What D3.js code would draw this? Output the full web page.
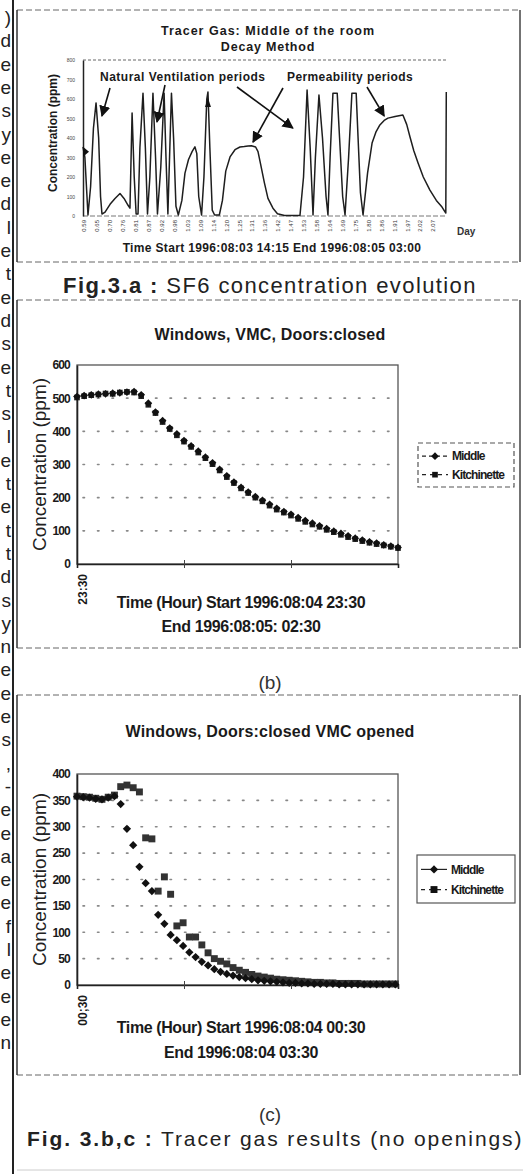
<!DOCTYPE html>
<html>
<head>
<meta charset="utf-8">
<script src="https://cdn.jsdelivr.net/npm/d3@7"></script>
<style>
body { margin: 0; background: #fff; }
svg { display: block; font-family: "Liberation Sans", Arial, sans-serif; }
</style>
</head>
<body>
<div id="page"></div>
<script>
// ---- Fig 3.a : SF6 concentration, day fraction vs ppm
var sf6Days = [0.590, 0.598, 0.611, 0.622, 0.634, 0.645, 0.656, 0.664, 0.670, 0.683, 0.704, 0.725, 0.746, 0.763, 0.780, 0.788,
  0.797, 0.806, 0.814, 0.822, 0.830, 0.843, 0.853, 0.862, 0.872, 0.885, 0.896, 0.904, 0.918, 0.932, 0.940, 0.948,
  0.955, 0.963, 0.972, 0.982, 0.992, 1.007, 1.020, 1.035, 1.050, 1.062, 1.070, 1.078, 1.090, 1.100, 1.112, 1.117,
  1.125, 1.135, 1.145, 1.165, 1.178, 1.192, 1.210, 1.231, 1.252, 1.270, 1.286, 1.300, 1.318, 1.328, 1.340, 1.355,
  1.370, 1.391, 1.410, 1.440, 1.505, 1.520, 1.535, 1.548, 1.560, 1.570, 1.585, 1.600, 1.615, 1.623, 1.632, 1.644,
  1.662, 1.672, 1.685, 1.695, 1.710, 1.724, 1.742, 1.750, 1.760, 1.771, 1.790, 1.809, 1.825, 1.842, 1.860, 1.876,
  1.906, 1.939, 1.955, 1.969, 1.985, 2.003, 2.025, 2.053, 2.080, 2.104, 2.120, 2.122];
var sf6Ppm = [355, 300, 5, 150, 450, 580, 400, 100, 10, 20, 60, 90, 115, 90, 55, 40,
  528, 200, 10, 10, 350, 630, 350, 10, 200, 630, 300, 10, 250, 630, 300, 10,
  300, 630, 400, 50, 5, 80, 220, 290, 330, 355, 320, 100, 5, 200, 600, 636,
  350, 30, 5, 5, 80, 230, 303, 340, 354, 356, 359, 360, 354, 330, 260, 170,
  90, 40, 12, 3, 3, 200, 646, 350, 5, 300, 620, 400, 100, 5, 300, 630,
  630, 400, 100, 5, 300, 630, 630, 400, 120, 5, 220, 374, 430, 467, 490, 502,
  510, 518, 470, 405, 335, 272, 200, 133, 80, 46, 15, 636];
var sf6YTicks = [0, 100, 200, 300, 400, 500, 600, 700, 800];
var sf6DayLabels = ["0.59", "0.65", "0.70", "0.76", "0.81", "0.87", "0.92", "0.98", "1.03", "1.09", "1.14", "1.20", "1.25", "1.31",
  "1.36", "1.42", "1.47", "1.53", "1.58", "1.64", "1.69", "1.75", "1.80", "1.86", "1.91", "1.97", "2.02", "2.07"];

// ---- Fig 3.b : minutes after 23:30
var bMinutes = [0, 4, 8, 12, 16, 20, 24, 28, 32, 36, 40, 44, 48, 52, 56, 60, 64, 68, 72, 76, 80, 84, 88,
  92, 96, 100, 104, 108, 112, 116, 120, 124, 128, 132, 136, 140, 144, 148, 152, 156, 160, 164, 168, 172, 176, 180];
var bMiddle = [505, 508, 510, 512, 513, 515, 516, 518, 520, 510, 485, 458, 432, 410, 392, 372, 356, 340, 322, 305, 285, 266, 247,
  231, 217, 203, 192, 180, 168, 158, 150, 140, 131, 123, 115, 107, 99, 92, 85, 78, 72, 67, 63, 58, 54, 50];
var bKitch = [502, 506, 509, 511, 514, 513, 517, 519, 517, 506, 480, 455, 428, 407, 388, 369, 353, 336, 319, 301, 282, 262, 244,
  228, 214, 200, 189, 176, 164, 155, 146, 136, 127, 119, 112, 103, 96, 88, 81, 75, 69, 64, 60, 56, 52, 48];
var bYTicks = [0, 100, 200, 300, 400, 500, 600];

// ---- Fig 3.c : minutes after 00:30
var cMinutes = [0, 3.5, 7, 10.5, 14, 17.5, 21, 24.5, 28, 31.5, 35, 38.5, 42, 45.5, 49, 52.5, 56, 59.5, 63, 66.5, 70, 73.5, 77,
  80.5, 84, 87.5, 91, 94.5, 98, 101.5, 105, 108.5, 112, 115.5, 119, 122.5, 126, 129.5, 133, 136.5, 140, 143.5, 147, 150.5,
  154, 157.5, 161, 164.5, 168, 171.5, 175, 178.5];
var cMiddle = [357, 356, 355, 353, 352, 355, 358, 343, 296, 265, 224, 193, 178, 133, 116, 95, 85, 74, 62, 53, 44, 37, 30,
  25, 21, 18, 15, 13, 11, 9, 8, 7, 6, 5, 4, 4, 3, 3, 2, 2, 2, 2, 1, 1, 1, 1, 1, 1, 1, 1, 1, 1];
var cKitch = [358, 357, 356, 354, 352, 356, 360, 376, 379, 374, 366, 279, 277, 178, 205, 172, 112, 118, 91, 91, 76, 61, 50,
  45, 40, 33, 28, 24, 20, 17, 15, 13, 11, 10, 9, 8, 7, 6, 5, 5, 4, 4, 3, 3, 3, 3, 2, 2, 2, 2, 2, 2];
var cYTicks = [0, 50, 100, 150, 200, 250, 300, 350, 400];

var seriesNames = ["Middle", "Kitchinette"];

// cut-off letters of the neighbouring text column
var sideChars = [")", "d", "e", "e", "s", "y", "e", "e", "d", "l", "e", "t", "e", "d", "s", "e", "t", "s", "l", "e", "t",
  "e", "t", "t", "d", "s", "y", "n", "e", "e", "e", "s", ",", "-", "e", "e", "a", "e", "e", "f", "l", "e", "e", "e", "n", "", ""];

var W = 523, H = 1174;
var ink = "#1a1a1a";

var svg = d3.select("#page").append("svg")
  .attr("width", W)
  .attr("height", H);

svg.append("rect").attr("width", W).attr("height", H).attr("fill", "#fff");

// page column rule + leftover letters
svg.append("line").attr("x1", 13).attr("x2", 13).attr("y1", 0).attr("y2", H)
  .attr("stroke", "#222").attr("stroke-width", 2);
svg.selectAll(".side").data(sideChars).enter().append("text")
  .attr("class", "side")
  .attr("x", 11)
  .attr("y", function(d, i) { return 24 + i * 23.3; })
  .attr("text-anchor", "end")
  .attr("font-size", 19)
  .attr("fill", "#222")
  .text(function(d) { return d; });

// figure boxes (dashed top/bottom, solid sides as in the scan)
function box(y0, y1) {
  svg.append("line").attr("x1", 17).attr("x2", 520).attr("y1", y0).attr("y2", y0)
    .attr("stroke", "#666").attr("stroke-dasharray", "6,3");
  svg.append("line").attr("x1", 17).attr("x2", 520).attr("y1", y1).attr("y2", y1)
    .attr("stroke", "#666").attr("stroke-dasharray", "6,3");
  svg.append("line").attr("x1", 17).attr("x2", 17).attr("y1", y0).attr("y2", y1)
    .attr("stroke", "#333").attr("stroke-width", 1.5);
  svg.append("line").attr("x1", 520).attr("x2", 520).attr("y1", y0).attr("y2", y1)
    .attr("stroke", "#444").attr("stroke-width", 1.5);
}
box(10, 262);
box(300, 648);
box(695, 1075);

// ================= Fig 3.a =================
var ax = d3.scaleLinear().domain([0.59, 2.125]).range([83, 447]);
var ay = d3.scaleLinear().domain([0, 800]).range([216, 60]);
var ga = svg.append("g");

ga.append("text").attr("x", 268).attr("y", 35).attr("text-anchor", "middle")
  .attr("font-size", 12.5).attr("letter-spacing", 1).attr("font-weight", "bold").attr("fill", ink)
  .text("Tracer Gas: Middle of the room");
ga.append("text").attr("x", 268).attr("y", 51).attr("text-anchor", "middle")
  .attr("font-size", 12.5).attr("letter-spacing", 0.8).attr("font-weight", "bold").attr("fill", ink)
  .text("Decay Method");

// frame
ga.append("line").attr("x1", ax.range()[0]).attr("x2", ax.range()[1]).attr("y1", ay(800)).attr("y2", ay(800))
  .attr("stroke", "#666").attr("stroke-dasharray", "3,2");
ga.append("line").attr("x1", ax.range()[0]).attr("x2", ax.range()[1]).attr("y1", ay(0)).attr("y2", ay(0))
  .attr("stroke", "#777").attr("stroke-dasharray", "5,2");

var aYAxis = ga.append("g")
  .attr("transform", "translate(" + ax.range()[0] + ",0)")
  .call(d3.axisLeft(ay).tickValues(sf6YTicks).tickSize(0).tickPadding(8));
aYAxis.select(".domain").attr("stroke", "#222").attr("stroke-width", 1.5);
aYAxis.selectAll("text").attr("font-size", 5).attr("fill", "#444").attr("font-family", "Liberation Sans");

ga.append("text")
  .attr("transform", "translate(57,133) rotate(-90)")
  .attr("text-anchor", "middle")
  .attr("font-size", 12).attr("font-weight", "bold").attr("fill", ink)
  .text("Concentration (ppm)");

// day labels (category axis)
var aLab = d3.scalePoint().domain(sf6DayLabels).range([84, 433]);
var aXAxis = ga.append("g")
  .attr("transform", "translate(0," + ay(0) + ")")
  .call(d3.axisBottom(aLab).tickSize(0).tickPadding(3));
aXAxis.select(".domain").remove();
aXAxis.selectAll("text")
  .attr("font-size", 6).attr("fill", "#333").attr("font-family", "Liberation Sans")
  .attr("text-anchor", "end")
  .attr("transform", "rotate(-90)")
  .attr("x", -4).attr("y", 0).attr("dy", "0.32em");

ga.append("text").attr("x", 457).attr("y", 235)
  .attr("font-size", 10).attr("font-weight", "bold").attr("fill", "#333").text("Day");
ga.append("text").attr("x", 272).attr("y", 252).attr("text-anchor", "middle")
  .attr("font-size", 12).attr("letter-spacing", 0.35).attr("font-weight", "bold").attr("fill", ink)
  .text("Time  Start 1996:08:03 14:15 End 1996:08:05 03:00");

var line = d3.line()
  .x(function(d) { return ax(d[0]); })
  .y(function(d) { return ay(d[1]); });
ga.append("path")
  .datum(d3.zip(sf6Days, sf6Ppm))
  .attr("d", line)
  .attr("fill", "none")
  .attr("stroke", "#1e1e1e")
  .attr("stroke-width", 1.5)
  .attr("stroke-linejoin", "round");

// annotations
ga.append("text").attr("x", 100).attr("y", 81)
  .attr("font-size", 12).attr("letter-spacing", 0.5).attr("font-weight", "bold").attr("fill", ink)
  .text("Natural Ventilation periods");
ga.append("text").attr("x", 287).attr("y", 81)
  .attr("font-size", 12).attr("letter-spacing", 0.4).attr("font-weight", "bold").attr("fill", ink)
  .text("Permeability periods");

var defs = svg.append("defs");
defs.append("marker").attr("id", "ah")
  .attr("viewBox", "0 0 10 10").attr("refX", 9).attr("refY", 5)
  .attr("markerWidth", 7).attr("markerHeight", 7).attr("orient", "auto")
  .append("path").attr("d", "M0,0L10,5L0,10Z").attr("fill", "#111");

var arrows = [
  [110, 88, 0.670, 513],
  [165, 85, 0.902, 482],
  [237, 87, 1.475, 451],
  [283, 88, 1.307, 379],
  [367, 87, 1.860, 513]
];
ga.selectAll(".arr").data(arrows).enter().append("line")
  .attr("class", "arr")
  .attr("x1", function(d) { return d[0]; })
  .attr("y1", function(d) { return d[1]; })
  .attr("x2", function(d) { return ax(d[2]); })
  .attr("y2", function(d) { return ay(d[3]); })
  .attr("stroke", "#111").attr("stroke-width", 1.6)
  .attr("marker-end", "url(#ah)");

// small arrow tips printed on the curve
ga.append("path").attr("d", "M" + ax(0.59) + "," + (ay(330) - 5) + "l6,5l-6,5z").attr("fill", "#111");
ga.append("path").attr("d", "M" + (ax(1.117) - 3) + "," + (ay(590) + 6) + "l3,-9l3,9z").attr("fill", "#111");

svg.append("text").attr("x", 270).attr("y", 293).attr("text-anchor", "middle")
  .attr("font-size", 22).attr("letter-spacing", 1.4).attr("fill", "#222")
  .call(function(t) {
    t.append("tspan").attr("font-weight", "bold").text("Fig.3.a :");
    t.append("tspan").text(" SF6 concentration evolution");
  });

// ================= Fig 3.b / 3.c scatter panels =================
function panel(opt) {
  var x = d3.scaleLinear().domain([0, 180]).range([77, 398]);
  var y = d3.scaleLinear().domain([0, opt.yMax]).range([opt.bottom, opt.top]);
  var g = svg.append("g");

  g.append("text").attr("x", 270).attr("y", opt.titleY).attr("text-anchor", "middle")
    .attr("font-size", 16).attr("font-weight", "bold").attr("letter-spacing", 0.2)
    .attr("fill", ink).text(opt.title);

  // dotted grid
  g.selectAll(".grid").data(opt.ticks.filter(function(v) { return v > 0 && v < opt.yMax; }))
    .enter().append("line")
    .attr("x1", x(0) + 6).attr("x2", x(180) - 4)
    .attr("y1", function(d) { return y(d); }).attr("y2", function(d) { return y(d); })
    .attr("stroke", "#888").attr("stroke-width", 1.6).attr("stroke-dasharray", "1.5,13")
    .attr("stroke-linecap", "round");

  // frame
  g.append("rect").attr("x", x(0)).attr("y", y(opt.yMax))
    .attr("width", x(180) - x(0)).attr("height", y(0) - y(opt.yMax))
    .attr("fill", "none").attr("stroke", "#555").attr("stroke-width", 1.3);

  var yAxis = g.append("g").attr("transform", "translate(" + x(0) + ",0)")
    .call(d3.axisLeft(y).tickValues(opt.ticks).tickSize(0).tickPadding(7));
  yAxis.select(".domain").attr("stroke", "#222").attr("stroke-width", 1.6);
  yAxis.selectAll("text").attr("font-size", 12).attr("font-weight", "bold")
    .attr("letter-spacing", -0.8).attr("fill", ink).attr("font-family", "Liberation Sans");

  var xAxis = g.append("g").attr("transform", "translate(0," + y(0) + ")")
    .call(d3.axisBottom(x).tickValues([60, 120]).tickSize(4).tickFormat(""));
  xAxis.select(".domain").attr("stroke", "#222").attr("stroke-width", 1.6);
  xAxis.selectAll(".tick line").attr("stroke", "#444").attr("y1", -4);

  g.append("text")
    .attr("transform", "translate(" + (x(0) + 6) + "," + (y(0) + 10) + ") rotate(-90)")
    .attr("text-anchor", "end").attr("dy", "0.32em")
    .attr("font-size", 12).attr("font-weight", "bold").attr("fill", ink).text(opt.startLabel);

  g.append("text")
    .attr("transform", "translate(46," + (opt.top + opt.bottom) / 2 + ") rotate(-90)")
    .attr("text-anchor", "middle")
    .attr("font-size", 19).attr("fill", "#222").text("Concentration (ppm)");

  g.append("text").attr("x", 241).attr("y", opt.xLab1Y).attr("text-anchor", "middle")
    .attr("font-size", 16).attr("font-weight", "bold").attr("letter-spacing", -0.4)
    .attr("fill", ink).text(opt.xLab1);
  g.append("text").attr("x", 241).attr("y", opt.xLab2Y).attr("text-anchor", "middle")
    .attr("font-size", 16).attr("font-weight", "bold").attr("letter-spacing", -0.4)
    .attr("fill", ink).text(opt.xLab2);

  var diamond = d3.symbol().type(d3.symbolSquare).size(opt.mSize);
  var square = d3.symbol().type(d3.symbolSquare).size(opt.sSize);

  g.selectAll(".kit").data(d3.zip(opt.t, opt.kit)).enter().append("path")
    .attr("class", "kit")
    .attr("d", square)
    .attr("transform", function(d) { return "translate(" + x(d[0]) + "," + y(d[1]) + ")"; })
    .attr("fill", opt.sqFill);
  g.selectAll(".mid").data(d3.zip(opt.t, opt.mid)).enter().append("path")
    .attr("class", "mid")
    .attr("d", diamond)
    .attr("transform", function(d) { return "translate(" + x(d[0]) + "," + y(d[1]) + ") rotate(45)"; })
    .attr("fill", "#111");

  // legend
  var lg = g.append("g");
  lg.append("rect").attr("x", opt.leg[0]).attr("y", opt.leg[1])
    .attr("width", opt.leg[2]).attr("height", opt.leg[3])
    .attr("fill", "none").attr("stroke", "#555").attr("stroke-width", 1.2)
    .attr("stroke-dasharray", opt.legDash);
  seriesNames.forEach(function(name, i) {
    var yy = opt.leg[1] + opt.leg[3] * (i === 0 ? 0.3 : 0.72);
    var lx = opt.leg[0] + 4;
    lg.append("line").attr("x1", lx).attr("x2", lx + 26).attr("y1", yy).attr("y2", yy)
      .attr("stroke", "#222").attr("stroke-width", 1.2)
      .attr("stroke-dasharray", i === 0 ? opt.midDash : "4,4");
    lg.append("path")
      .attr("d", i === 0 ? diamond : square)
      .attr("transform", "translate(" + (lx + 13) + "," + yy + ")" + (i === 0 ? " rotate(45)" : ""))
      .attr("fill", "#111");
    lg.append("text").attr("x", lx + 30).attr("y", yy).attr("dy", "0.35em")
      .attr("font-size", 12).attr("font-weight", "bold").attr("letter-spacing", -0.9)
      .attr("fill", ink).text(name);
  });

  svg.append("text").attr("x", 270).attr("y", opt.subY).attr("text-anchor", "middle")
    .attr("font-size", 19).attr("fill", "#333").text(opt.sub);
}

panel({
  title: "Windows, VMC, Doors:closed", titleY: 340,
  yMax: 600, top: 365, bottom: 564, ticks: bYTicks,
  t: bMinutes, mid: bMiddle, kit: bKitch,
  mSize: 30, sSize: 32, sqFill: "#222",
  startLabel: "23:30",
  xLab1: "Time (Hour) Start 1996:08:04 23:30", xLab1Y: 608,
  xLab2: "End 1996:08:05: 02:30", xLab2Y: 632,
  leg: [418, 443, 96, 44], legDash: "5,3", midDash: "4,3",
  sub: "(b)", subY: 689
});

panel({
  title: "Windows, Doors:closed VMC opened", titleY: 737,
  yMax: 400, top: 774, bottom: 985, ticks: cYTicks,
  t: cMinutes, mid: cMiddle, kit: cKitch,
  mSize: 34, sSize: 48, sqFill: "#333",
  startLabel: "00;30",
  xLab1: "Time (Hour) Start 1996:08:04 00:30", xLab1Y: 1033,
  xLab2: "End 1996:08:04 03:30", xLab2Y: 1058,
  leg: [417, 855, 98, 48], legDash: null, midDash: null,
  sub: "(c)", subY: 1121
});

svg.append("text").attr("x", 27).attr("y", 1146)
  .attr("font-size", 21).attr("letter-spacing", 1.9).attr("fill", "#222")
  .call(function(t) {
    t.append("tspan").attr("font-weight", "bold").text("Fig. 3.b,c :");
    t.append("tspan").text(" Tracer gas results (no openings)");
  });

svg.append("line").attr("x1", 17).attr("x2", 523).attr("y1", 1170).attr("y2", 1170)
  .attr("stroke", "#ccc").attr("stroke-width", 1);
</script>
</body>
</html>
